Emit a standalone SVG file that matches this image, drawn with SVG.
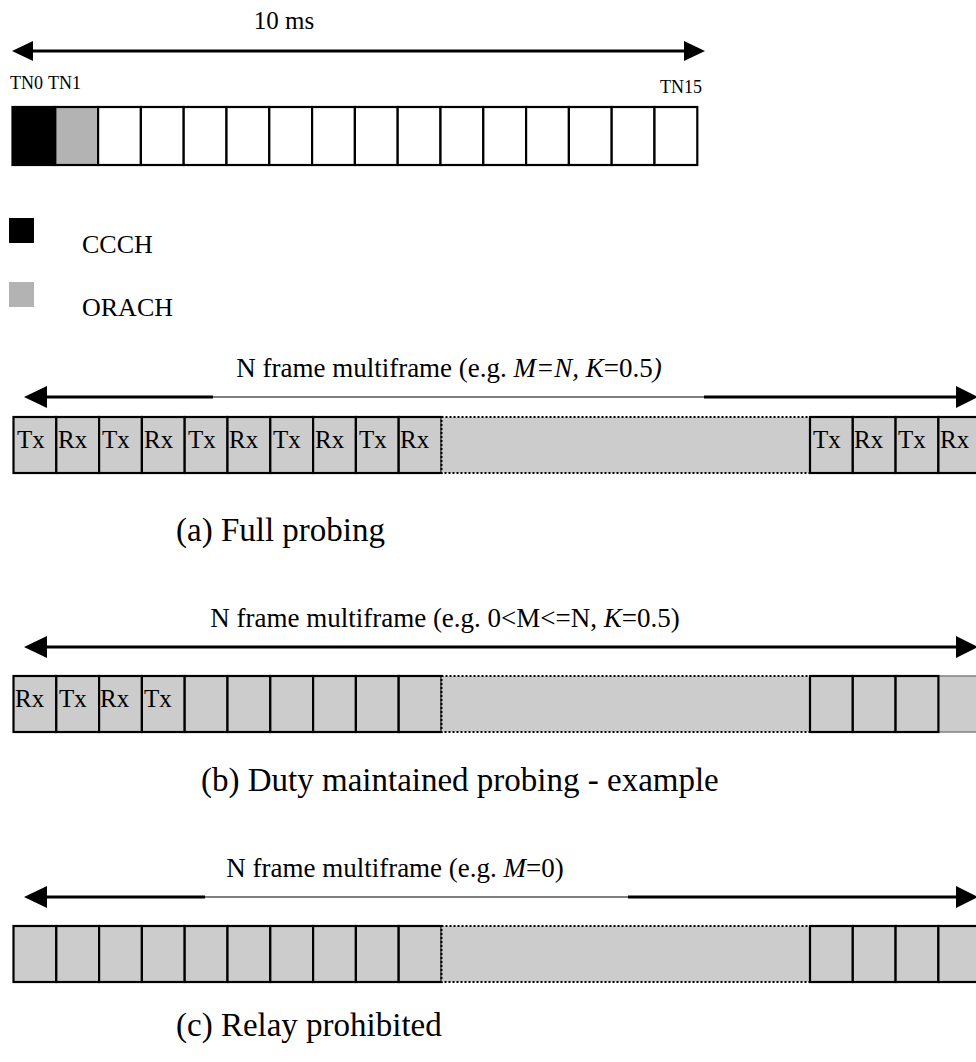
<svg xmlns="http://www.w3.org/2000/svg" width="976" height="1062" viewBox="0 0 976 1062">
<style>
text{font-family:"Liberation Serif","Times New Roman",serif;fill:#000}
.t{font-size:18px}
.lg{font-size:26px}
.lb{font-size:25px}
.ml{font-size:27px}
.cx{font-size:25px}
.cap{font-size:33px}
.cell{fill:#cccccc;stroke:#000;stroke-width:2.2}
.wc{fill:#fff;stroke:#000;stroke-width:2.2}
.dot{fill:#cccccc;stroke:#000;stroke-width:2;stroke-dasharray:2 2}
.thick{stroke:#000;stroke-width:3;fill:none}
.thin{stroke:#000;stroke-width:1.2;fill:none}
.ah{fill:#000}
</style>
<g id="connectors">
<line class="thick" x1="30" y1="51" x2="690" y2="51"/>
<polygon class="ah" points="12,51 33,41 33,61"/>
<polygon class="ah" points="705,51 684,41 684,61"/>
<line class="thick" x1="40" y1="397" x2="213" y2="397"/>
<line class="thin" x1="213" y1="397" x2="704" y2="397"/>
<line class="thick" x1="704" y1="397" x2="960" y2="397"/>
<polygon class="ah" points="24,397 47,386 47,408"/>
<polygon class="ah" points="978,397 956,386 956,408"/>
<line class="thick" x1="40" y1="647" x2="960" y2="647"/>
<polygon class="ah" points="24,647 47,636 47,658"/>
<polygon class="ah" points="978,647 956,636 956,658"/>
<line class="thick" x1="40" y1="897" x2="205" y2="897"/>
<line class="thin" x1="205" y1="897" x2="628" y2="897"/>
<line class="thick" x1="628" y1="897" x2="960" y2="897"/>
<polygon class="ah" points="24,897 47,886 47,908"/>
<polygon class="ah" points="978,897 956,886 956,908"/>
</g>
<g id="top-frame">
<text x="284" y="29" class="lb" text-anchor="middle">10 ms</text>
<text x="10" y="89" class="t">TN0</text>
<text x="48" y="89" class="t">TN1</text>
<text x="660" y="93" class="t">TN15</text>
<rect x="12.5" y="107" width="42.8" height="58" fill="#000" stroke="#000" stroke-width="2.2"/>
<rect x="55.3" y="107" width="42.8" height="58" fill="#b3b3b3" stroke="#000" stroke-width="2.2"/>
<rect class="wc" x="98.1" y="107" width="42.8" height="58"/>
<rect class="wc" x="140.9" y="107" width="42.8" height="58"/>
<rect class="wc" x="183.7" y="107" width="42.8" height="58"/>
<rect class="wc" x="226.5" y="107" width="42.8" height="58"/>
<rect class="wc" x="269.3" y="107" width="42.8" height="58"/>
<rect class="wc" x="312.1" y="107" width="42.8" height="58"/>
<rect class="wc" x="354.9" y="107" width="42.8" height="58"/>
<rect class="wc" x="397.7" y="107" width="42.8" height="58"/>
<rect class="wc" x="440.5" y="107" width="42.8" height="58"/>
<rect class="wc" x="483.3" y="107" width="42.8" height="58"/>
<rect class="wc" x="526.1" y="107" width="42.8" height="58"/>
<rect class="wc" x="568.9" y="107" width="42.8" height="58"/>
<rect class="wc" x="611.7" y="107" width="42.8" height="58"/>
<rect class="wc" x="654.5" y="107" width="42.8" height="58"/>
</g>
<g id="legend-ccch">
<rect x="9" y="218" width="25" height="25" fill="#000"/>
<text x="82" y="253" class="lg">CCCH</text>
</g>
<g id="legend-orach">
<rect x="9" y="282" width="25" height="25" fill="#b3b3b3"/>
<text x="82" y="316" class="lg">ORACH</text>
</g>
<g id="frame-a">
<text x="449" y="377" class="ml" text-anchor="middle">N frame multiframe (e.g. <tspan font-style="italic">M=N,</tspan> <tspan font-style="italic">K</tspan>=0.5<tspan font-style="italic">)</tspan></text>
<rect class="cell" x="13.5" y="417" width="42.8" height="56"/>
<rect class="cell" x="56.3" y="417" width="42.8" height="56"/>
<rect class="cell" x="99.1" y="417" width="42.8" height="56"/>
<rect class="cell" x="141.9" y="417" width="42.8" height="56"/>
<rect class="cell" x="184.7" y="417" width="42.8" height="56"/>
<rect class="cell" x="227.5" y="417" width="42.8" height="56"/>
<rect class="cell" x="270.3" y="417" width="42.8" height="56"/>
<rect class="cell" x="313.1" y="417" width="42.8" height="56"/>
<rect class="cell" x="355.9" y="417" width="42.8" height="56"/>
<rect class="cell" x="398.7" y="417" width="42.8" height="56"/>
<rect class="dot" x="441.5" y="417" width="368.5" height="56"/>
<rect class="cell" x="810" y="417" width="42.8" height="56"/>
<rect class="cell" x="852.8" y="417" width="42.8" height="56"/>
<rect class="cell" x="895.6" y="417" width="42.8" height="56"/>
<rect class="cell" x="938.4" y="417" width="42.8" height="56"/>
<text class="cx" x="17" y="448">Tx</text>
<text class="cx" x="58" y="448">Rx</text>
<text class="cx" x="102" y="448">Tx</text>
<text class="cx" x="144" y="448">Rx</text>
<text class="cx" x="188" y="448">Tx</text>
<text class="cx" x="229" y="448">Rx</text>
<text class="cx" x="273" y="448">Tx</text>
<text class="cx" x="315" y="448">Rx</text>
<text class="cx" x="359" y="448">Tx</text>
<text class="cx" x="400" y="448">Rx</text>
<text class="cx" x="813" y="448">Tx</text>
<text class="cx" x="854" y="448">Rx</text>
<text class="cx" x="898" y="448">Tx</text>
<text class="cx" x="940" y="448">Rx</text>
<text x="176" y="541" class="cap">(a) Full probing</text>
</g>
<g id="frame-b">
<text x="445" y="627" class="ml" text-anchor="middle">N frame multiframe (e.g. 0&lt;M&lt;=N, <tspan font-style="italic">K</tspan>=0.5)</text>
<rect class="cell" x="13.5" y="676" width="42.8" height="56"/>
<rect class="cell" x="56.3" y="676" width="42.8" height="56"/>
<rect class="cell" x="99.1" y="676" width="42.8" height="56"/>
<rect class="cell" x="141.9" y="676" width="42.8" height="56"/>
<rect class="cell" x="184.7" y="676" width="42.8" height="56"/>
<rect class="cell" x="227.5" y="676" width="42.8" height="56"/>
<rect class="cell" x="270.3" y="676" width="42.8" height="56"/>
<rect class="cell" x="313.1" y="676" width="42.8" height="56"/>
<rect class="cell" x="355.9" y="676" width="42.8" height="56"/>
<rect class="cell" x="398.7" y="676" width="42.8" height="56"/>
<rect class="dot" x="441.5" y="676" width="368.5" height="56"/>
<rect x="938.4" y="676" width="42.8" height="56" fill="#cccccc" stroke="#808080" stroke-width="1.5"/>
<rect class="cell" x="810" y="676" width="42.8" height="56"/>
<rect class="cell" x="852.8" y="676" width="42.8" height="56"/>
<rect class="cell" x="895.6" y="676" width="42.8" height="56"/>
<text class="cx" x="15" y="707">Rx</text>
<text class="cx" x="59" y="707">Tx</text>
<text class="cx" x="100" y="707">Rx</text>
<text class="cx" x="144" y="707">Tx</text>
<text x="201" y="791" class="cap">(b) Duty maintained probing - example</text>
</g>
<g id="frame-c">
<text x="395" y="877" class="ml" text-anchor="middle">N frame multiframe (e.g. <tspan font-style="italic">M</tspan>=0)</text>
<rect class="cell" x="13.5" y="926" width="42.8" height="56"/>
<rect class="cell" x="56.3" y="926" width="42.8" height="56"/>
<rect class="cell" x="99.1" y="926" width="42.8" height="56"/>
<rect class="cell" x="141.9" y="926" width="42.8" height="56"/>
<rect class="cell" x="184.7" y="926" width="42.8" height="56"/>
<rect class="cell" x="227.5" y="926" width="42.8" height="56"/>
<rect class="cell" x="270.3" y="926" width="42.8" height="56"/>
<rect class="cell" x="313.1" y="926" width="42.8" height="56"/>
<rect class="cell" x="355.9" y="926" width="42.8" height="56"/>
<rect class="cell" x="398.7" y="926" width="42.8" height="56"/>
<rect class="dot" x="441.5" y="926" width="368.5" height="56"/>
<rect class="cell" x="810" y="926" width="42.8" height="56"/>
<rect class="cell" x="852.8" y="926" width="42.8" height="56"/>
<rect class="cell" x="895.6" y="926" width="42.8" height="56"/>
<rect class="cell" x="938.4" y="926" width="42.8" height="56"/>
<text x="176" y="1036" class="cap">(c) Relay prohibited</text>
</g>
</svg>
